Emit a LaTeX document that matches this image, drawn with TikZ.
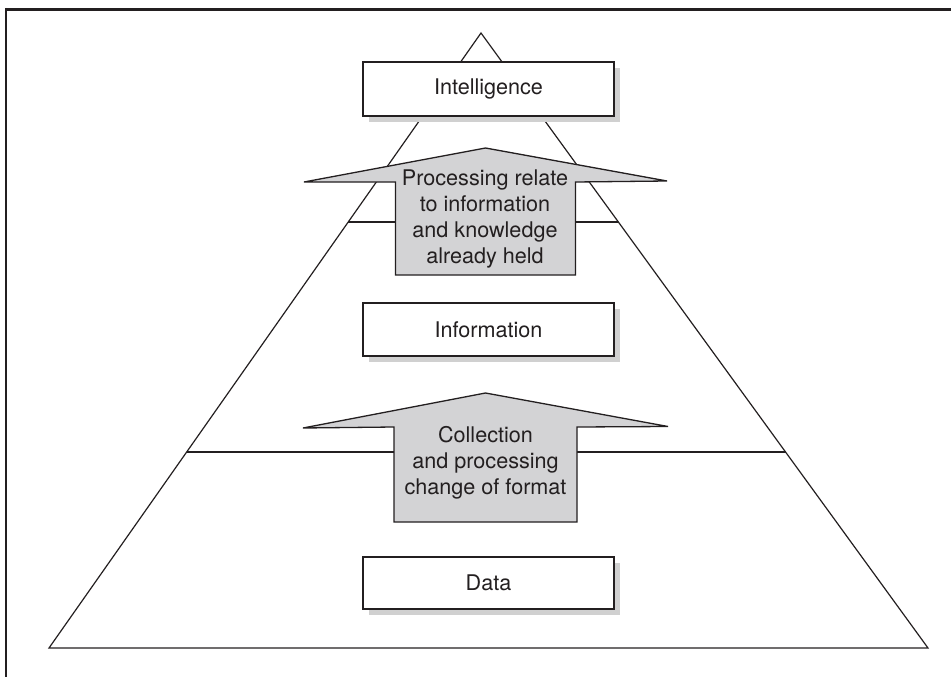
\documentclass[tikz,border=0pt]{standalone}
\usepackage{fontspec}
\setmainfont{TeX Gyre Heros}
\usetikzlibrary{calc,shadows}
\definecolor{ink}{HTML}{231F20}
\definecolor{arrowgray}{HTML}{D3D3D5}
\definecolor{shadowgray}{HTML}{D0D0D0}
\tikzset{
  labeltext/.style={font=\fontsize{21.6}{25.8}\selectfont, text=ink, align=center, inner sep=0pt},
  levelbox/.style={draw=ink, line width=1.3pt, fill=white, minimum width=251pt, minimum height=53pt,
    inner sep=0pt, font=\fontsize{21.6}{25.8}\selectfont, text=ink,
    drop shadow={shadow xshift=6pt, shadow yshift=-6pt, fill=shadowgray, opacity=1}},
  pyramidline/.style={draw=ink, line width=1.2pt},
  bigarrow/.style={draw=ink, line width=1.3pt, fill=arrowgray, line join=miter},
  framerule/.style={draw=ink, line cap=butt}
}
\begin{document}
\begin{tikzpicture}[x=1pt,y=-1pt]
\useasboundingbox (0,0) rectangle (951,677);
% frame
\draw[framerule, line width=3pt] (951,9.5) -- (4.8,9.5);
\draw[framerule, line width=2.4pt] (6,8) -- (6,677);
% pyramid
\coordinate (apex) at (481,33);
\coordinate (bl) at (49,648);
\coordinate (br) at (928,648);
\draw[pyramidline, line join=miter] (bl) -- (apex) -- (br) -- cycle;
\coordinate (l1) at ($(apex)!0.3073!(bl)$);
\coordinate (r1) at ($(apex)!0.3073!(br)$);
\coordinate (l2) at ($(apex)!0.6813!(bl)$);
\coordinate (r2) at ($(apex)!0.6813!(br)$);
\draw[pyramidline] (l1) -- (r1);
\draw[pyramidline] (l2) -- (r2);
% boxes
\node[levelbox, minimum height=54pt] (intel) at (488.5,89) {Intelligence};
\node[levelbox] (info) at (488.5,329.5) {Information};
\node[levelbox, minimum height=52pt] (data) at (488.5,583) {Data};
% upper arrow
\draw[bigarrow] (485.5,148) -- (667,181) -- (575.5,182) -- (575.5,275) -- (395.5,275) -- (395.5,182) -- (304,182) -- cycle;
\node[labeltext] (proc) at (485,219) {Processing relate\\to information\\and knowledge\\already held};
% lower arrow
\draw[bigarrow] (485.5,393) -- (668,426.5) -- (577,427) -- (577,522) -- (394,522) -- (394,427) -- (303,428) -- cycle;
\node[labeltext] (coll) at (485.5,463) {Collection\\and processing\\change of format};
\end{tikzpicture}
\end{document}
